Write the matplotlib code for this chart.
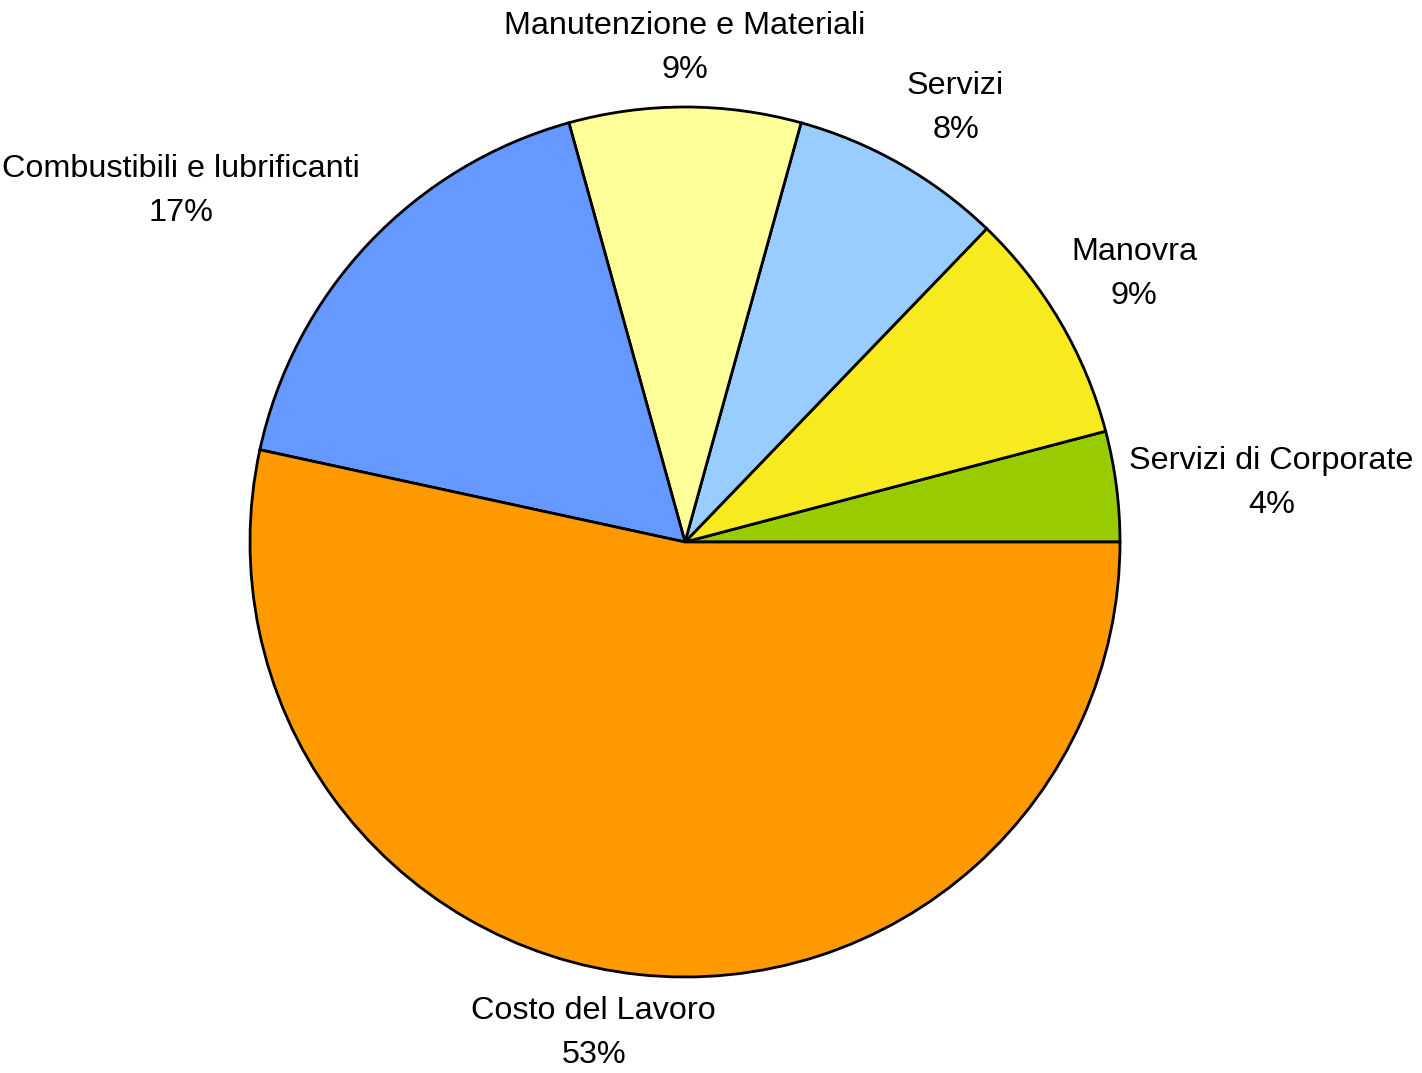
import matplotlib.pyplot as plt
import numpy as np

plt.rcParams['font.family'] = ['Liberation Sans', 'DejaVu Sans']

# cost breakdown, counter-clockwise from 3 o'clock
labels = ['Servizi di Corporate', 'Manovra', 'Servizi',
          'Manutenzione e Materiali', 'Combustibili e lubrificanti',
          'Costo del Lavoro']
values = [4.1, 8.7, 7.9, 8.6, 17.3, 53.4]
colors = ['#99CC00', '#F7EB1F', '#99CCFF', '#FFFF99', '#6699FF', '#FF9900']


def main():
    fig = plt.figure(figsize=(14.22, 10.73), dpi=100)
    ax = fig.add_axes([250 / 1422, 96 / 1073, 870 / 1422, 870 / 1073])

    wedges, _ = ax.pie(values, colors=colors, startangle=0, counterclock=True,
                       radius=1, wedgeprops=dict(edgecolor='black', linewidth=2))
    ax.set_xlim(-1, 1)
    ax.set_ylim(-1, 1)
    ax.set_aspect('equal')
    ax.axis('off')

    total = float(sum(values))
    for w, name, v in zip(wedges, labels, values):
        ang = np.deg2rad((w.theta1 + w.theta2) / 2)
        c, s = np.cos(ang), np.sin(ang)
        x, y = 1.03 * c, 1.05 * s
        ha = 'left' if c > 0.2 else ('right' if c < -0.2 else 'center')
        va = 'bottom' if s > 0.2 else ('top' if s < -0.2 else 'center')
        if ha == 'center' and va == 'top':
            x -= 0.1  # bottom label sits a little left of its wedge middle
        ax.text(x, y, '%s\n%.0f%%' % (name, v / total * 100), ha=ha, va=va,
                multialignment='center', fontsize=23.3, linespacing=1.6,
                clip_on=False)

    plt.savefig('out.png', dpi=100)


if __name__ == '__main__':
    main()
